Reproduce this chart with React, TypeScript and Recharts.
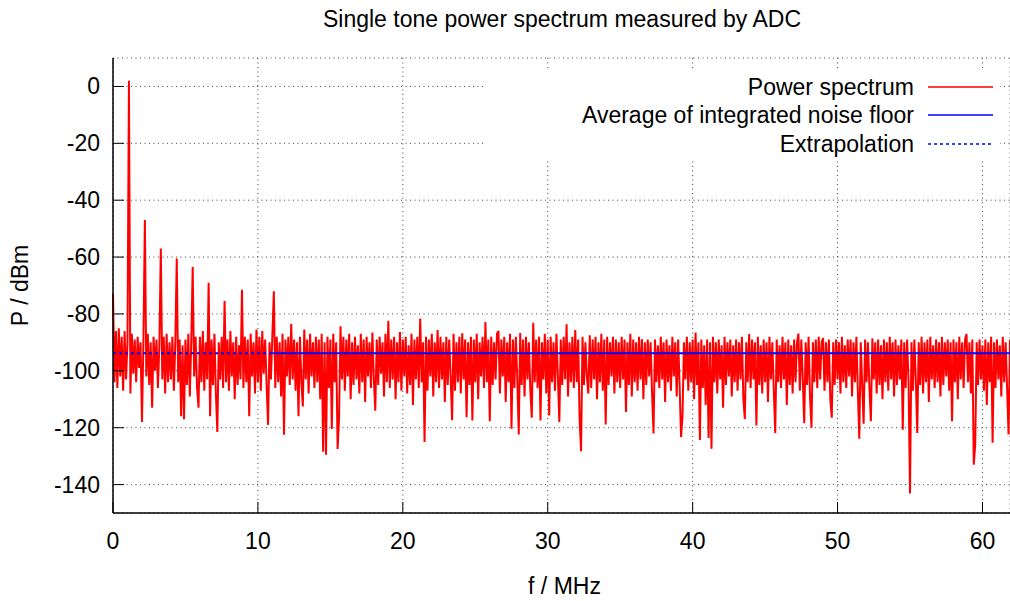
import React from "react";
import { ComposedChart, Line, XAxis, YAxis, CartesianGrid } from "recharts";

const FONT = "'Liberation Sans', Arial, Helvetica, sans-serif";

// spectrum bins, 0.1 MHz apart, values in dBm
const BIN_MHZ = 0.1;
const spectrum00 = [
  -73, -104, -86, -106, -85, -102, -88, -107, -86, -103,
  -90, 2, -108, -87, -101, -89, -104, -88, -99, -90,
  -118, -89, -47, -102, -87, -105, -90, -113, -88, -100,
  -89, -106, -91, -57, -103, -88, -108, -87, -104, -90,
  -103, -88, -107, -90, -60.5, -104, -89, -116, -91, -117,
  -89, -105, -87, -109, -90, -63.5, -102, -88, -106, -113,
  -88, -104, -86, -107, -90, -103, -69, -116, -89, -105,
  -87, -108, -121.5, -90, -103, -88, -106, -75.5, -104, -89,
  -107, -86, -102, -90, -110, -88, -105, -91, -103, -71.5,
  -106, -88, -104, -89, -116, -87, -102, -90, -108, -85.5,
];
const spectrum10 = [
  -104, -88, -107, -86, -101, -89, -105, -119, -90, -103,
  -87, -72, -106, -88, -104, -90, -109, -87, -122.5, -89,
  -102, -88, -105, -83.5, -103, -89, -107, -90, -116, -88,
  -104, -112.5, -85.5, -103, -89, -108, -87, -102, -90, -106,
  -88, -104, -89, -110, -87, -128.5, -90, -129.5, -88, -106,
  -89, -120.5, -87, -104, -90, -127.5, -116.5, -84.3, -103, -88,
  -107, -89, -102, -87, -110, -90, -105, -88, -103, -91,
  -108, -87, -104, -89, -111, -88, -102, -90, -106, -86.5,
  -103, -114, -89, -105, -88, -101, -90, -109, -87, -104,
  -82.4, -106, -89, -103, -88, -110, -90, -104, -86.4, -107,
];
const spectrum20 = [
  -89, -102, -88, -108, -91, -105, -87, -112, -89, -103,
  -88, -106, -81.6, -104, -90, -125, -88, -107, -89, -102,
  -87, -109, -90, -104, -85.7, -106, -88, -103, -90, -111,
  -88, -105, -89, -102, -117.4, -87, -107, -90, -104, -88,
  -108, -86.8, -103, -89, -116.3, -90, -105, -88, -117.5, -89,
  -104, -87, -110, -90, -102, -88, -106, -82.8, -104, -89,
  -117.7, -88, -105, -90, -103, -87, -86, -108, -89, -102,
  -88, -111, -90, -104, -87, -120.4, -89, -106, -88, -103,
  -122.4, -86.7, -105, -89, -109, -88, -103, -90, -107, -116.5,
  -83.1, -104, -89, -106, -88, -117.5, -90, -103, -87, -108,
];
const spectrum30 = [
  -89, -115.7, -88, -104, -90, -107, -87, -102, -118, -89,
  -105, -88, -103, -83.6, -109, -90, -104, -88, -106, -85.7,
  -104, -89, -117, -128.3, -88, -105, -90, -102, -108, -87.5,
  -106, -89, -103, -88, -110, -90, -104, -87, -107, -89,
  -118.9, -88, -105, -90, -102, -88, -108, -89, -104, -90,
  -106, -88, -103, -89, -114.5, -90, -105, -87, -109, -89,
  -104, -90, -107, -88, -103, -88.9, -110, -90, -105, -89,
  -102, -90, -108, -122, -89, -104, -91, -106, -88, -103,
  -90, -111, -89, -104, -91, -107, -88, -102, -90, -109,
  -89, -105, -123.3, -116, -90, -103, -88, -107, -90, -104,
];
const spectrum40 = [
  -89, -110, -86.5, -105, -90, -124.3, -89, -106, -91, -112,
  -89, -123.6, -90, -127.4, -88, -104, -90, -108, -89, -103,
  -91, -113, -88, -105, -90, -102, -89, -109, -91, -104,
  -89, -107, -90, -103, -88, -110, -116.9, -90, -104, -87.1,
  -106, -89, -103, -90, -119.2, -88, -105, -91, -108, -89,
  -104, -90, -111, -88, -103, -90, -107, -121.9, -89, -104,
  -91, -106, -88, -103, -90, -112, -89, -105, -91, -108,
  -89, -104, -90, -86.9, -107, -89, -103, -118.4, -90, -105,
  -88, -109, -120, -90, -104, -89, -106, -88, -103, -90,
  -88.5, -107, -90, -104, -89, -110, -116.5, -90, -105, -89,
];
const spectrum50 = [
  -103, -90, -108, -88, -104, -91, -106, -89, -102, -89,
  -109, -90, -104, -88, -107, -123.9, -90, -105, -118.6, -89,
  -104, -90, -106, -117.7, -88.6, -103, -90, -108, -89, -105,
  -91, -110, -89, -104, -90, -107, -88, -103, -90, -109,
  -89, -105, -91, -103, -89, -120.7, -90, -106, -89, -104,
  -143.1, -90, -107, -89, -103, -121.9, -90, -105, -88, -108,
  -90, -104, -89, -111, -88, -103, -91, -106, -89, -104,
  -90, -109, -88, -105, -90, -102, -89, -107, -90, -117.7,
  -89, -104, -90, -110, -88, -103, -90, -106, -89, -87.1,
  -104, -90, -108, -89, -133, -126, -90, -105, -89, -103,
];
const spectrum60 = [
  -91, -107, -89, -112, -90, -104, -88, -125.3, -90, -106,
  -89, -103, -91, -109, -88, -104, -90, -106, -122.4, -89,
];
const spectrumDbm = [
  ...spectrum00, ...spectrum10, ...spectrum20, ...spectrum30,
  ...spectrum40, ...spectrum50, ...spectrum60,
];

const noiseFloorDbm = -93.8;
const measuredSpanMHz = [11, 61.9];
const extrapolatedSpanMHz = [0, 11];

const xTicks = [0, 10, 20, 30, 40, 50, 60];
const yTicks = [-140, -120, -100, -80, -60, -40, -20, 0];

const spectrumData = spectrumDbm.map((p, i) => ({ f: Number((i * BIN_MHZ).toFixed(1)), p }));
const floorData = measuredSpanMHz.map((f) => ({ f, avg: noiseFloorDbm }));
const extrapData = extrapolatedSpanMHz.map((f) => ({ f, avg: noiseFloorDbm }));

function BottomTick({ x, y, payload }: any) {
  return (
    <g>
      <line x1={x} y1={y} x2={x} y2={y - 11} stroke="#000" />
      <text x={x} y={y + 36} textAnchor="middle" fontSize={23} fontFamily={FONT} fill="#000">
        {payload.value}
      </text>
    </g>
  );
}

function TopTick({ x, y }: any) {
  return <line x1={x} y1={y} x2={x} y2={y + 11} stroke="#000" />;
}

function LeftTick({ x, y, payload }: any) {
  return (
    <g>
      <line x1={x} y1={y} x2={x + 11} y2={y} stroke="#000" />
      <text x={x - 13} y={y + 8} textAnchor="end" fontSize={23} fontFamily={FONT} fill="#000">
        {payload.value}
      </text>
    </g>
  );
}

const legendRows = [
  { label: "Power spectrum", color: "#ff0000", dash: undefined },
  { label: "Average of integrated noise floor", color: "#0000ff", dash: undefined },
  { label: "Extrapolation", color: "#0000ff", dash: "3 3" },
];

export default function App() {
  return (
    <div style={{ position: "relative", width: 1010, height: 601, fontFamily: FONT, background: "#fff" }}>
      <style>{`body{margin:0}`}</style>
      <div
        style={{
          position: "absolute",
          left: 562,
          top: 8,
          transform: "translateX(-50%)",
          whiteSpace: "nowrap",
          fontSize: 23,
          lineHeight: "23px",
        }}
      >
        Single tone power spectrum measured by ADC
      </div>

      <ComposedChart width={1010} height={601} margin={{ top: 58, right: 0, bottom: 0, left: 0 }}>
        <CartesianGrid stroke="#444" strokeDasharray="1 3.5" />
        <XAxis
          dataKey="f"
          type="number"
          domain={[0, 61.9]}
          ticks={xTicks}
          interval={0}
          height={88}
          axisLine={{ stroke: "#000", strokeWidth: 1.5 }}
          tickLine={false}
          tickSize={0}
          tickMargin={0}
          tick={<BottomTick />}
          label={{ value: "f / MHz", position: "insideBottom", offset: 7, dx: 3, fontSize: 23, fill: "#000", fontFamily: FONT }}
        />
        <XAxis
          xAxisId="top"
          orientation="top"
          dataKey="f"
          type="number"
          domain={[0, 61.9]}
          ticks={xTicks}
          interval={0}
          height={0}
          axisLine={{ stroke: "#000", strokeWidth: 1.5 }}
          tickLine={false}
          tickSize={0}
          tickMargin={0}
          tick={<TopTick />}
        />
        <YAxis
          type="number"
          domain={[-150, 10]}
          ticks={yTicks}
          interval={0}
          width={113}
          axisLine={{ stroke: "#000", strokeWidth: 1.5 }}
          tickLine={false}
          tickSize={0}
          tickMargin={0}
          tick={<LeftTick />}
          label={{
            value: "P / dBm",
            angle: -90,
            position: "insideLeft",
            offset: 20,
            fontSize: 23,
            fill: "#000",
            fontFamily: FONT,
            style: { textAnchor: "middle" },
          }}
        />
        <Line
          data={spectrumData}
          dataKey="p"
          type="linear"
          stroke="#ff0000"
          strokeWidth={2}
          strokeLinejoin="miter"
          dot={false}
          activeDot={false}
          isAnimationActive={false}
        />
        <Line
          data={floorData}
          dataKey="avg"
          type="linear"
          stroke="#0000ff"
          strokeWidth={2}
          dot={false}
          activeDot={false}
          isAnimationActive={false}
        />
        <Line
          data={extrapData}
          dataKey="avg"
          type="linear"
          stroke="#0000ff"
          strokeWidth={2}
          strokeDasharray="3 3"
          dot={false}
          activeDot={false}
          isAnimationActive={false}
        />
      </ComposedChart>

      <div style={{ position: "absolute", left: 485, top: 71, width: 515, height: 90, background: "#fff" }} />
      {legendRows.map((row, i) => (
        <div
          key={row.label}
          style={{ position: "absolute", left: 485, top: 72.5 + i * 28.5, width: 515, height: 28 }}
        >
          <span
            style={{
              position: "absolute",
              right: 86,
              top: 0,
              fontSize: 23,
              lineHeight: "28px",
              whiteSpace: "nowrap",
            }}
          >
            {row.label}
          </span>
          <svg style={{ position: "absolute", left: 928 - 485, top: 0 }} width={66} height={28}>
            <line x1={0} y1={14} x2={65} y2={14} stroke={row.color} strokeWidth={1.5} strokeDasharray={row.dash} />
          </svg>
        </div>
      ))}
    </div>
  );
}
